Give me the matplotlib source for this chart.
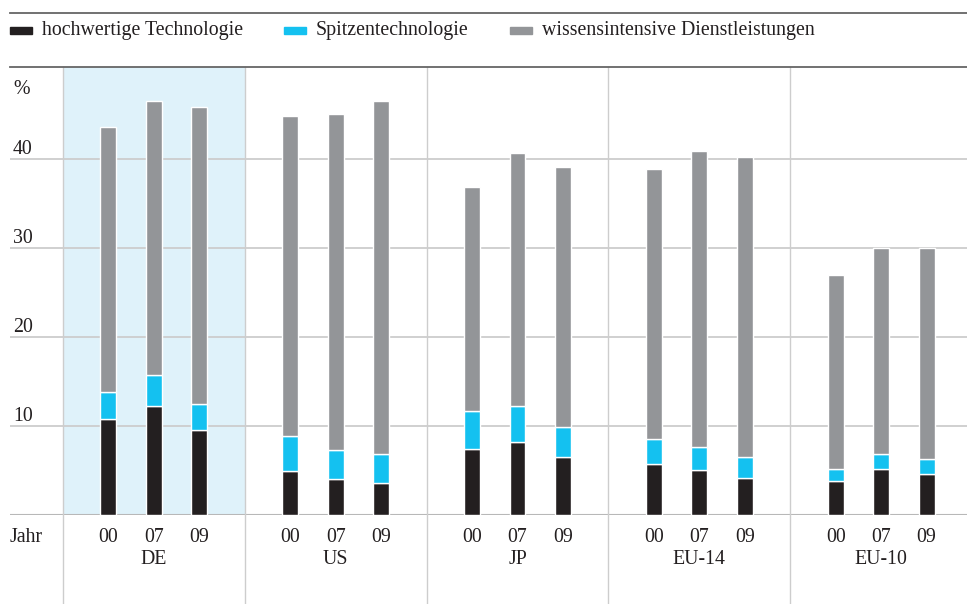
import matplotlib.pyplot as plt
from matplotlib.patches import Rectangle
from matplotlib.lines import Line2D
import matplotlib.transforms as mtransforms

plt.rcParams['font.family'] = ['Liberation Serif', 'DejaVu Serif']

# Regions and reference years
regions = ['DE', 'US', 'JP', 'EU-14', 'EU-10']
years = ['00', '07', '09']

# Shares in % (stack order: bottom to top)
hochwertig = [[10.8, 12.3, 9.6], [4.9, 4.0, 3.6], [7.4, 8.2, 6.5],
              [5.7, 5.1, 4.2], [3.8, 5.2, 4.6]]
spitzen = [[3.0, 3.5, 2.9], [4.0, 3.3, 3.3], [4.3, 4.1, 3.4],
           [2.9, 2.6, 2.3], [1.4, 1.7, 1.7]]
wissen = [[29.9, 30.8, 33.4], [36.0, 37.8, 39.7], [25.2, 28.4, 29.2],
          [30.3, 33.3, 33.8], [21.8, 23.1, 23.7]]

series_labels = ['hochwertige Technologie', 'Spitzentechnologie',
                 'wissensintensive Dienstleistungen']
colors = ['#231f20', '#14c1f0', '#939598']
yticks = [10, 20, 30, 40]
fs = 14.3

W, H = 967, 604
fig = plt.figure(figsize=(W / 100, H / 100), dpi=100)

# plot area in pixels: x 10..967, y 67..515
ax = fig.add_axes([10 / W, (H - 515) / H, 957 / W, 448 / H])
ax.set_xlim(-53 / 181.8, 904 / 181.8)
ax.set_ylim(0, 50.4)
ax.axis('off')

grid_c = '#cdcdcd'
# highlight for Germany
ax.axvspan(0, 1, color='#dff2fa', zorder=0, lw=0)

for v in yticks:
    ax.axhline(v, color=grid_c, lw=1.3, zorder=1)
    ax.text(-50 / 181.8, v + 1.1, str(v), ha='left', va='center',
            fontsize=fs, color='#231f20')
ax.axhline(0, color='#b8b8b8', lw=1.5, zorder=1)
ax.axhline(50.4, color='#666666', lw=1.3, zorder=3, clip_on=False)
ax.text(-50 / 181.8, 47.9, '%', ha='left', va='center', fontsize=fs,
        color='#231f20')

# group separators, extending below the baseline
for g in range(len(regions)):
    ax.axvline(g, ymin=-0.2, ymax=1, color=grid_c, lw=1.0, zorder=1,
               clip_on=False)

offsets = [0.25, 0.5, 0.75]
bw = 0.088
trans = mtransforms.blended_transform_factory(ax.transData, ax.transAxes)
for g, reg in enumerate(regions):
    xs = [g + o for o in offsets]
    bottom = [0, 0, 0]
    for data, c in zip([hochwertig, spitzen, wissen], colors):
        vals = data[g]
        ax.bar(xs, vals, width=bw, bottom=bottom, color=c,
               edgecolor='white', linewidth=1.0, zorder=2)
        bottom = [b + v for b, v in zip(bottom, vals)]
    for x, yr in zip(xs, years):
        ax.text(x, -22 / 448, yr, transform=trans, ha='center', va='center',
                fontsize=fs, color='#231f20')
    ax.text(g + 0.5, -44 / 448, reg, transform=trans, ha='center',
            va='center', fontsize=fs, color='#231f20')

ax.text(-53 / 181.8, -22 / 448, 'Jahr', transform=trans, ha='left',
        va='center', fontsize=fs, color='#231f20')

# legend row above the plot
fig.add_artist(Line2D([10 / W, 1], [(H - 13) / H] * 2, color='#666666',
                      lw=1.3, transform=fig.transFigure))
leg_pos = [(10, 42), (284, 316), (510, 542)]
for (px, tx), lab, c in zip(leg_pos, series_labels, colors):
    fig.add_artist(Rectangle((px / W, (H - 34) / H), 22 / W, 7 / H,
                             color=c, transform=fig.transFigure))
    fig.text(tx / W, (H - 31) / H, lab, ha='left', va='center',
             fontsize=fs, color='#231f20')

fig.savefig('out.png', dpi=100)
